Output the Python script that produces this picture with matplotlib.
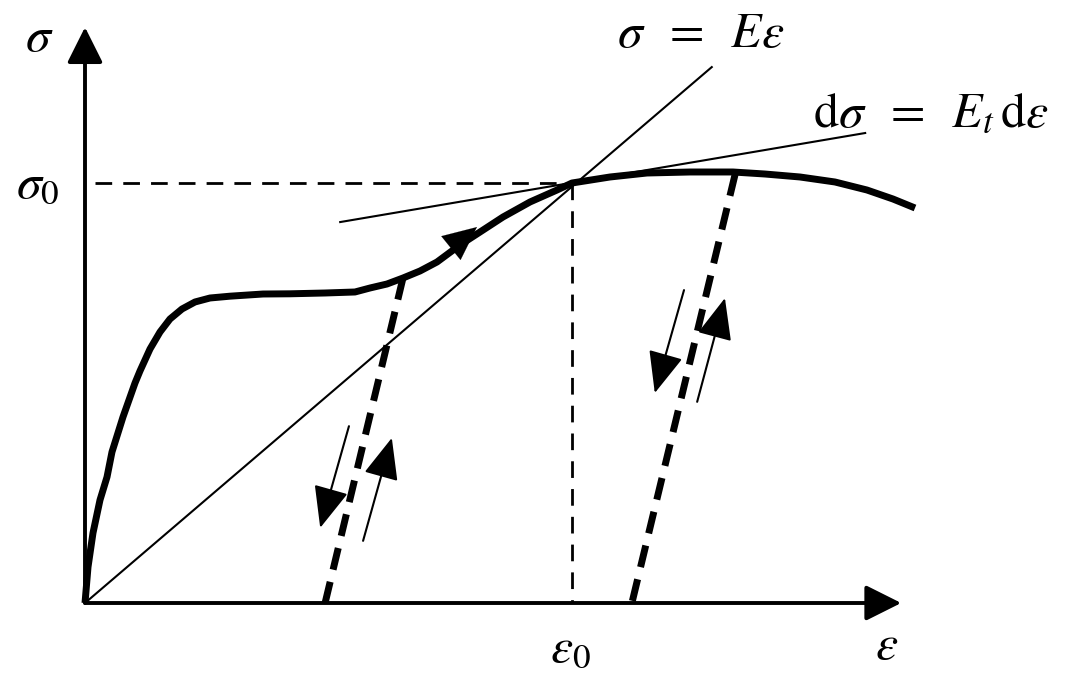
import numpy as np
import matplotlib
matplotlib.use("Agg")
import matplotlib.pyplot as plt

# --- data (strain / stress normalised so that eps0 = sigma0 = 1) ---
EPS0 = 1.0
SIG0 = 1.0

# loading curve
curve_eps = [0.0, 0.0062, 0.0164, 0.0308, 0.0452, 0.0554, 0.078, 0.1027, 0.1129,
             0.1335, 0.154, 0.1745, 0.1992, 0.2259, 0.2567, 0.2977, 0.3655, 0.4209,
             0.4928, 0.5544, 0.5852, 0.6201, 0.653, 0.6879, 0.7228, 0.77, 0.8111,
             0.8583, 0.9138, 0.9692, 1.0, 1.078, 1.154, 1.2423, 1.3306, 1.3963,
             1.4682, 1.54, 1.6057, 1.6591, 1.7043]
curve_sig = [0.0, 0.0857, 0.1667, 0.2452, 0.3, 0.3595, 0.4429, 0.5238, 0.5524,
             0.6048, 0.6452, 0.6762, 0.7, 0.7167, 0.7262, 0.7305, 0.7357, 0.7362,
             0.7381, 0.7405, 0.75, 0.7595, 0.7738, 0.7905, 0.8119, 0.8524, 0.8833,
             0.919, 0.9548, 0.9833, 1.0, 1.0143, 1.0238, 1.0262, 1.0262, 1.0214,
             1.0143, 1.0024, 0.9833, 0.9619, 0.9405]

# secant line sigma = E eps and tangent line at (eps0, sigma0)
secant_end = (1.287, 1.276)
tangent_eps = [0.524, 1.602]
tangent_sig = [0.907, 1.119]

# unloading / reloading lines
unload1_eps = [0.653, 0.493]
unload1_sig = [0.774, 0.0]
unload2_eps = [1.335, 1.123]
unload2_sig = [1.021, 0.0]

# small direction arrows (start, end)
arrows = [((0.542, 0.421), (0.483, 0.179)),
          ((0.571, 0.148), (0.630, 0.393)),
          ((1.230, 0.745), (1.170, 0.500)),
          ((1.257, 0.479), (1.314, 0.726))]
curve_arrow = ((0.7618, 0.8548), (0.8049, 0.8952))

X_TIP = 1.676
Y_TIP = 1.371

# --- plot ---
plt.rcParams['mathtext.fontset'] = 'stix'
fig = plt.figure(figsize=(10.71, 6.75), dpi=100)
ax = fig.add_axes([0, 0, 1, 1])
ax.set_xlim(-85 / 487, 986 / 487)
ax.set_ylim(-72 / 420, 603 / 420)
ax.axis('off')

# axes with arrowheads
axis_style = dict(arrowstyle='-|>,head_length=1.1,head_width=0.55', color='black',
                  lw=2.8, mutation_scale=20, shrinkA=0, shrinkB=0)
ax.annotate('', xy=(X_TIP, 0), xytext=(0, 0), arrowprops=axis_style)
ax.annotate('', xy=(0, Y_TIP), xytext=(0, 0), arrowprops=axis_style)

# reference dashed lines
ax.plot([0.02, EPS0], [SIG0, SIG0], color='black', lw=2.0, ls=(0, (6, 4)))
ax.plot([EPS0, EPS0], [SIG0, 0], color='black', lw=2.0, ls=(0, (6, 4)))

# secant and tangent
ax.plot([0, secant_end[0]], [0, secant_end[1]], color='black', lw=1.5)
ax.plot(tangent_eps, tangent_sig, color='black', lw=1.5)

# main curve
ax.plot(curve_eps, curve_sig, color='black', lw=5, solid_capstyle='butt',
        solid_joinstyle='round')

# unloading lines
ax.plot(unload1_eps, unload1_sig, color='black', lw=5, ls=(0, (3.2, 1.8)),
        dash_capstyle='butt')
ax.plot(unload2_eps, unload2_sig, color='black', lw=5, ls=(0, (3.2, 1.8)),
        dash_capstyle='butt')

# small arrows
small_style = dict(arrowstyle='-|>,head_length=1.3,head_width=0.55', color='black',
                   lw=1.5, mutation_scale=20, shrinkA=0, shrinkB=0)
for start, end in arrows:
    ax.annotate('', xy=end, xytext=start, arrowprops=small_style)
ax.annotate('', xy=curve_arrow[1], xytext=curve_arrow[0],
            arrowprops=dict(arrowstyle='-|>,head_length=1.2,head_width=0.55',
                            color='black', lw=0.1, mutation_scale=20,
                            shrinkA=0, shrinkB=0))

# labels
fs = 36
ax.text(-0.0945, 1.348, r'$\sigma$', fontsize=fs, ha='center', va='center')
ax.text(-0.0975, SIG0, r'$\sigma_0$', fontsize=fs, ha='center', va='center')
ax.text(0.996, -0.105, r'$\varepsilon_0$', fontsize=fs, ha='center', va='center')
ax.text(1.647, -0.10, r'$\varepsilon$', fontsize=fs, ha='center', va='center')
ax.text(1.265, 1.357, r'$\sigma\;\;=\;\;E\varepsilon$', fontsize=fs, ha='center',
        va='center')
ax.text(1.737, 1.167,
        r'$\mathrm{d}\sigma\;\;=\;\;E_t\,\mathrm{d}\varepsilon$', fontsize=fs,
        ha='center', va='center')

fig.savefig('out.png', dpi=100)
